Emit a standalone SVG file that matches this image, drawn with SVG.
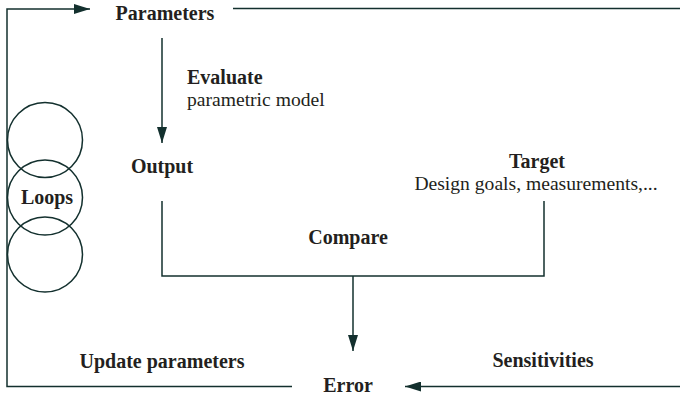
<svg xmlns="http://www.w3.org/2000/svg" width="680" height="395" viewBox="0 0 680 395">
<style>
.edge{fill:none;stroke:#13302e;stroke-width:1.5}
.lblb{font-family:'Liberation Serif',serif;font-weight:bold;font-size:20px;fill:#231f20;text-anchor:middle}
.lblr{font-family:'Liberation Serif',serif;font-size:19.6px;fill:#231f20}
</style>
<defs>
<marker id="ah" viewBox="0 0 16 10" refX="16" refY="5" markerWidth="16" markerHeight="10" markerUnits="userSpaceOnUse" orient="auto">
<path d="M0,0 L16,5 L0,10 Z" fill="#13302e"/>
</marker>
</defs>
<rect width="680" height="395" fill="#fff"/>
<g id="connectors">
<path class="edge" d="M292,386.5 H7 V9 H90" marker-end="url(#ah)"/>
<path class="edge" d="M233,8.5 H680"/>
<path class="edge" d="M680,386.5 H405" marker-end="url(#ah)"/>
<path class="edge" d="M162,38 V143" marker-end="url(#ah)"/>
<path class="edge" d="M162,201 V276 H544 V201"/>
<path class="edge" d="M353,276 V351" marker-end="url(#ah)"/>
</g>
<g id="parameters"><text class="lblb" x="165" y="20">Parameters</text></g>
<g id="evaluate"><text class="lblb" style="text-anchor:start" x="187" y="84">Evaluate</text><text class="lblr" x="187" y="106">parametric model</text></g>
<g id="output"><text class="lblb" x="162" y="173">Output</text></g>
<g id="target"><text class="lblb" x="537" y="168">Target</text><text class="lblr" style="text-anchor:middle" x="536" y="190">Design goals, measurements,...</text></g>
<g id="compare"><text class="lblb" x="348" y="244">Compare</text></g>
<g id="loops">
<circle class="edge" cx="45" cy="140" r="37.5"/>
<circle class="edge" cx="45" cy="197.5" r="37.5"/>
<circle class="edge" cx="45" cy="254.5" r="37.5"/>
<text class="lblb" x="47" y="204">Loops</text>
</g>
<g id="update"><text class="lblb" x="162" y="368">Update parameters</text></g>
<g id="sensitivities"><text class="lblb" x="543" y="367">Sensitivities</text></g>
<g id="error"><text class="lblb" x="348" y="392">Error</text></g>
</svg>
